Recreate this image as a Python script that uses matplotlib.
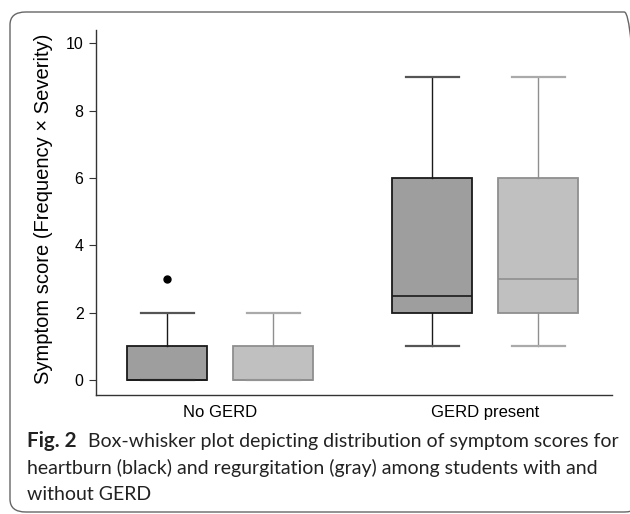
import matplotlib
matplotlib.use("Agg")
import matplotlib.pyplot as plt
from matplotlib.patches import FancyBboxPatch

# box stats
groups = ["No GERD", "GERD present"]
series = ["heartburn", "regurgitation"]
q1 = {"heartburn": [0, 2], "regurgitation": [0, 2]}
med = {"heartburn": [0, 2.5], "regurgitation": [0, 3]}
q3 = {"heartburn": [1, 6], "regurgitation": [1, 6]}
wlo = {"heartburn": [0, 1], "regurgitation": [0, 1]}
whi = {"heartburn": [2, 9], "regurgitation": [2, 9]}
fliers = {"heartburn": [[3], []], "regurgitation": [[], []]}
yticks = [0, 2, 4, 6, 8, 10]

fill = {"heartburn": "#9d9e9d", "regurgitation": "#bfc0bf"}
edge = {"heartburn": "#1a1a1a", "regurgitation": "#8f8f8f"}
capc = {"heartburn": "#555555", "regurgitation": "#aaaaaa"}
offs = {"heartburn": -0.2, "regurgitation": 0.2}

plt.rcParams["font.family"] = ["Liberation Sans", "DejaVu Sans"]
fig = plt.figure(figsize=(6.3, 5.14), dpi=100)
ax = fig.add_axes([96 / 630, 1 - 395 / 514, 516 / 630, 365 / 514])

for s in series:
    stats = []
    for i in range(len(groups)):
        stats.append(dict(q1=q1[s][i], med=med[s][i], q3=q3[s][i],
                          whislo=wlo[s][i], whishi=whi[s][i], fliers=fliers[s][i]))
    pos = [i + offs[s] for i in range(len(groups))]
    ax.bxp(stats, positions=pos, widths=0.302, patch_artist=True, showfliers=True,
           boxprops=dict(facecolor=fill[s], edgecolor=edge[s], linewidth=1.3),
           medianprops=dict(color=edge[s], linewidth=1.2),
           whiskerprops=dict(color=edge[s], linewidth=1.0),
           capprops=dict(color=capc[s], linewidth=1.6),
           capwidths=0.2,
           flierprops=dict(marker="o", markerfacecolor="black", markeredgecolor="black",
                           markersize=5))

ax.set_xlim(-0.468, 1.479)
ax.set_ylim(-0.45, 10.4)
ax.set_yticks(yticks)
ax.set_xticks(range(len(groups)))
ax.set_xticklabels(groups, fontsize=12)
ax.tick_params(axis="y", labelsize=11.5, length=5, color="#333333", pad=4)
ax.tick_params(axis="x", length=0, pad=7)
for sp in ["top", "right"]:
    ax.spines[sp].set_visible(False)
for sp in ["left", "bottom"]:
    ax.spines[sp].set_color("#333333")
    ax.spines[sp].set_linewidth(1.0)
ax.set_ylabel("Symptom score (Frequency \u00d7 Severity)", fontsize=14.5)
ax.yaxis.set_label_coords(-0.083, 0.51)

# caption
cap_font = ["Lato", "DejaVu Sans"]
fs = 14.05
fig.text(27 / 630, 1 - 441 / 514, "Fig. 2", fontsize=fs + 0.8, fontweight="bold",
         family=cap_font, va="center", color="#222222")
fig.text(88 / 630, 1 - 441 / 514, "Box-whisker plot depicting distribution of symptom scores for",
         fontsize=fs, family=cap_font, va="center", color="#222222")
fig.text(27 / 630, 1 - 468 / 514, "heartburn (black) and regurgitation (gray) among students with and",
         fontsize=fs, family=cap_font, va="center", color="#222222")
fig.text(27 / 630, 1 - 495 / 514, "without GERD",
         fontsize=fs, family=cap_font, va="center", color="#222222")

# rounded frame
frame = FancyBboxPatch((10 / 630, 2 / 514), 630 / 630, 500 / 514,
                       boxstyle="round,pad=0,rounding_size=0.025",
                       transform=fig.transFigure, fill=False,
                       edgecolor="#666666", linewidth=1.0, clip_on=False)
fig.patches.append(frame)

fig.savefig("out.png", dpi=100)
